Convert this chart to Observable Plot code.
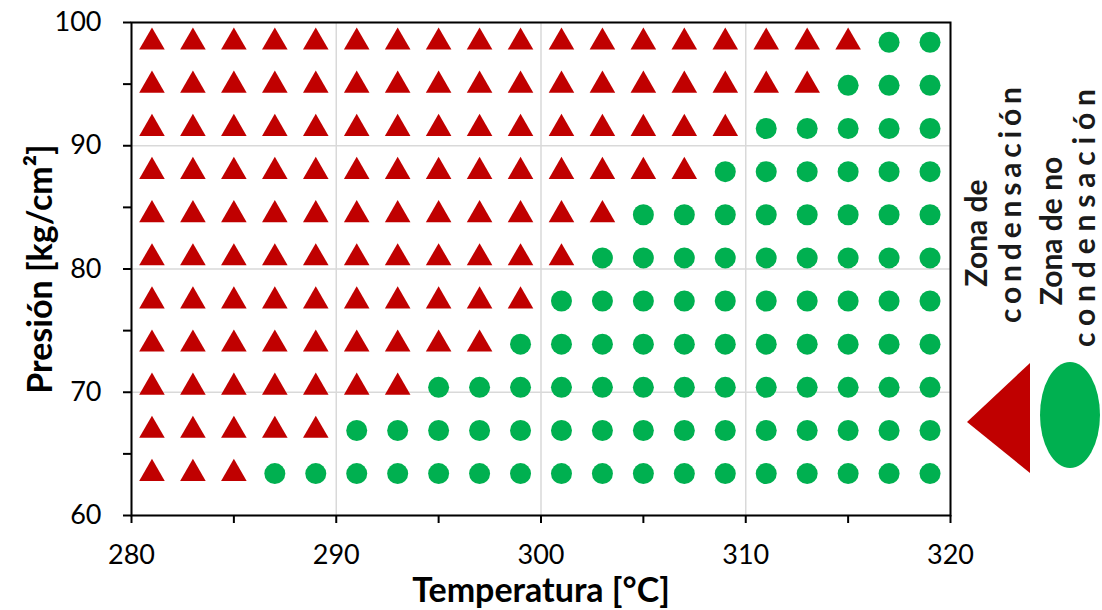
<!DOCTYPE html>
<html>
<head>
<meta charset="utf-8">
<script src="https://cdn.jsdelivr.net/npm/d3@7"></script>
<script src="https://cdn.jsdelivr.net/npm/@observablehq/plot@0.6"></script>
<style>
  html, body { margin: 0; padding: 0; background: white; }
  #wrap { position: relative; width: 1102px; height: 610px; }
  #legend { position: absolute; left: 0; top: 0; pointer-events: none; }
  g[aria-label="x-axis label"] text, g[aria-label="y-axis label"] text,
  g[aria-label="x-axis label"], g[aria-label="y-axis label"] { font-weight: bold; font-size: 34px; }
</style>
</head>
<body>
<div id="wrap"></div>
<script>
// ---- data ----
const temperatures = [281, 283, 285, 287, 289, 291, 293, 295, 297, 299, 301, 303, 305, 307, 309, 311, 313, 315, 317, 319];
const pressures = [63.4, 66.9, 70.4, 73.9, 77.4, 80.9, 84.4, 87.9, 91.4, 94.9, 98.4];
// highest temperature of each pressure row that is still in the condensation zone (triangles)
const condensationLimit = [285, 289, 293, 297, 299, 301, 303, 307, 309, 313, 315];
const xTicks = [280, 290, 300, 310, 320];
const xMinorTicks = [285, 295, 305, 315];
const yTicks = [60, 70, 80, 90, 100];
const yMinorTicks = [65, 75, 85, 95];
const xLabel = "Temperatura [°C]";
const yLabel = "Presión [kg/cm²]";
const legendLabels = [["Zona de", "condensación"], ["Zona de no", "condensación"]];
const colors = { cond: "#C00000", noCond: "#00B050" };

const points = [];
pressures.forEach((p, i) => {
  temperatures.forEach(t => {
    points.push({ t, p, zone: t <= condensationLimit[i] ? "cond" : "noCond" });
  });
});

const chart = Plot.plot({
  width: 1102,
  height: 610,
  marginLeft: 131,
  marginRight: 152,
  marginTop: 22,
  marginBottom: 95,
  x: { domain: [280, 320] },
  y: { domain: [60, 100] },
  style: { fontFamily: "Lato, sans-serif", fontSize: "27px", color: "black", background: "white" },
  marks: [
    Plot.gridX(xTicks, { stroke: "#d9d9d9", strokeOpacity: 1, strokeWidth: 1.5 }),
    Plot.gridY(yTicks, { stroke: "#d9d9d9", strokeOpacity: 1, strokeWidth: 1.5 }),
    Plot.dot(points.filter(d => d.zone === "cond"), { x: "t", y: "p", symbol: "triangle", r: 9.5, fill: colors.cond }),
    Plot.dot(points.filter(d => d.zone === "noCond"), { x: "t", y: "p", symbol: "circle", r: 10.5, fill: colors.noCond }),
    Plot.axisX(xTicks, { tickSize: 8, tickPadding: 21, strokeWidth: 2, label: xLabel, labelAnchor: "center", labelArrow: "none", labelOffset: 86 }),
    Plot.axisX(xMinorTicks, { tickSize: 8, tickFormat: () => "", strokeWidth: 2, label: null }),
    Plot.axisY(yTicks, { tickSize: 8, tickPadding: 22, strokeWidth: 2, label: yLabel, labelAnchor: "center", labelArrow: "none", labelOffset: 104 }),
    Plot.axisY(yMinorTicks, { tickSize: 8, tickFormat: () => "", strokeWidth: 2, label: null }),
    Plot.frame({ stroke: "black", strokeWidth: 2 })
  ]
});
document.getElementById("wrap").appendChild(chart);

// ---- legend (right side) ----
const svg = d3.select("#wrap").append("svg")
  .attr("id", "legend").attr("width", 1102).attr("height", 610);
svg.append("path").attr("d", "M967,422 L1030,363 L1030,473 Z").attr("fill", colors.cond);
svg.append("ellipse").attr("cx", 1070).attr("cy", 415).attr("rx", 30).attr("ry", 53).attr("fill", colors.noCond);
const lines = [
  { text: legendLabels[0][0], x: 987, yc: 233, len: null },
  { text: legendLabels[0][1], x: 1021, yc: 205, len: 236 },
  { text: legendLabels[1][0], x: 1062, yc: 231, len: null },
  { text: legendLabels[1][1], x: 1095, yc: 218, len: 258 }
];
lines.forEach(l => {
  const t = svg.append("text")
    .attr("transform", `translate(${l.x},${l.yc}) rotate(-90)`)
    .attr("text-anchor", "middle")
    .attr("font-family", "Lato, sans-serif")
    .attr("font-weight", "bold")
    .attr("font-size", 30)
    .attr("fill", "#1a1a1a")
    .text(l.text);
  if (l.len) t.attr("textLength", l.len).attr("lengthAdjust", "spacing");
});
</script>
</body>
</html>
